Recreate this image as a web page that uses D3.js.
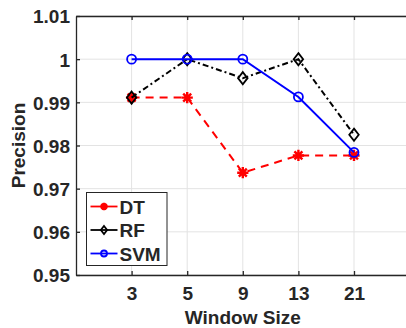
<!DOCTYPE html>
<html>
<head>
<meta charset="utf-8">
<script src="https://cdn.jsdelivr.net/npm/d3@7"></script>
<style>
  body { margin: 0; background: #fff; }
  svg text { font-family: "Liberation Sans", Arial, sans-serif; font-weight: bold; fill: #262626; }
</style>
</head>
<body>
<svg id="chart" width="406" height="328"></svg>
<script>
// Data
var windowSizes = ["3", "5", "9", "13", "21"];
var dtValues = [0.9911, 0.9911, 0.9737, 0.9777, 0.9777];
var rfValues = [0.9911, 1.0, 0.9956, 1.0, 0.9825];
var svmValues = [1.0, 1.0, 1.0, 0.99125, 0.9784];
var yTicks = [0.95, 0.96, 0.97, 0.98, 0.99, 1, 1.01];

var series = [
    { name: "DT", values: dtValues, color: "#ff0000", dash: "8,6", marker: "star" },
    { name: "RF", values: rfValues, color: "#000000", dash: "6,3,2,3", marker: "diamond" },
    { name: "SVM", values: svmValues, color: "#0000ff", dash: null, marker: "circle" }
];

// Plot box
var margin = { top: 16, left: 76 };
var plotW = 333.6, plotH = 259;

var svg = d3.select("#chart");
var g = svg.append("g")
    .attr("transform", "translate(" + margin.left + "," + margin.top + ")");

// x is categorical, placed at 1..5 in a 0..6 range
var x = d3.scaleLinear().domain([0, windowSizes.length + 1]).range([0, plotW]);
var y = d3.scaleLinear().domain([0.95, 1.01]).range([plotH, 0]);

// Grid
g.append("g").selectAll("line.gx")
    .data(windowSizes)
    .enter().append("line")
    .attr("x1", (d, i) => x(i + 1)).attr("x2", (d, i) => x(i + 1))
    .attr("y1", 0).attr("y2", plotH)
    .attr("stroke", "#e3e3e3").attr("stroke-width", 1);
g.append("g").selectAll("line.gy")
    .data(yTicks)
    .enter().append("line")
    .attr("x1", 0).attr("x2", plotW)
    .attr("y1", d => y(d)).attr("y2", d => y(d))
    .attr("stroke", "#e3e3e3").attr("stroke-width", 1);

// Axes
var xAxis = d3.axisBottom(x)
    .tickValues(windowSizes.map((d, i) => i + 1))
    .tickFormat((d, i) => windowSizes[i])
    .tickSizeInner(-4).tickSizeOuter(0).tickPadding(12);
var yAxis = d3.axisLeft(y)
    .tickValues(yTicks)
    .tickFormat(d => d === 1 ? "1" : d3.format(".2f")(d))
    .tickSizeInner(-4).tickSizeOuter(0).tickPadding(6);

var gx = g.append("g").attr("transform", "translate(0," + plotH + ")").call(xAxis);
var gy = g.append("g").call(yAxis);
// top border with ticks
var gt = g.append("g").call(d3.axisTop(x)
    .tickValues(windowSizes.map((d, i) => i + 1))
    .tickFormat("").tickSizeInner(-4).tickSizeOuter(0));

[gx, gy, gt].forEach(function(a) {
    a.select(".domain").attr("stroke", "#262626").attr("stroke-width", 1.3);
    a.selectAll(".tick line").attr("stroke", "#262626").attr("stroke-width", 1.3);
    a.selectAll(".tick text").style("font-size", "19px").attr("fill", "#262626");
});
gy.selectAll(".tick text").attr("dy", "0.36em");

// Axis titles
svg.append("text")
    .attr("x", margin.left + x(3)).attr("y", 324)
    .attr("text-anchor", "middle")
    .style("font-size", "19px")
    .text("Window Size");
svg.append("text")
    .attr("transform", "translate(25," + (margin.top + plotH / 2) + ") rotate(-90)")
    .attr("text-anchor", "middle")
    .style("font-size", "19px")
    .text("Precision");

// Marker drawing
function drawMarker(sel, type, color, size) {
    if (type === "circle") {
        sel.append("circle").attr("r", size).attr("fill", "none")
            .attr("stroke", color).attr("stroke-width", 1.8);
    } else if (type === "diamond") {
        sel.append("path")
            .attr("d", "M0," + (-size * 1.35) + "L" + (size * 1.05) + ",0L0," + (size * 1.35) + "L" + (-size * 1.05) + ",0Z")
            .attr("fill", "none").attr("stroke", color).attr("stroke-width", 1.8);
    } else {
        var s = size * 1.25;
        var p = "";
        for (var k = 0; k < 4; k++) {
            var a = k * Math.PI / 4;
            p += "M" + (-s * Math.cos(a)) + "," + (-s * Math.sin(a)) + "L" + (s * Math.cos(a)) + "," + (s * Math.sin(a));
        }
        sel.append("path").attr("d", p).attr("stroke", color).attr("stroke-width", 2.4);
    }
}

var line = d3.line().x((d, i) => x(i + 1)).y(d => y(d));

series.forEach(function(s) {
    g.append("path")
        .datum(s.values)
        .attr("d", line)
        .attr("fill", "none")
        .attr("stroke", s.color)
        .attr("stroke-width", 2)
        .attr("stroke-dasharray", s.dash);
    g.selectAll(null)
        .data(s.values)
        .enter().append("g")
        .attr("transform", (d, i) => "translate(" + x(i + 1) + "," + y(d) + ")")
        .each(function() { drawMarker(d3.select(this), s.marker, s.color, 4.5); });
});

// Legend
var lg = svg.append("g").attr("transform", "translate(86.5,192.5)");
lg.append("rect").attr("width", 80.5).attr("height", 73)
    .attr("fill", "#fff").attr("stroke", "#262626").attr("stroke-width", 1);
series.forEach(function(s, i) {
    var ly = 14 + i * 23.5;
    lg.append("line").attr("x1", 4).attr("x2", 31).attr("y1", ly).attr("y2", ly)
        .attr("stroke", s.color).attr("stroke-width", 1.8);
    var m = lg.append("g").attr("transform", "translate(17.5," + ly + ")");
    drawMarker(m, s.marker, s.color, 3);
    lg.append("text").attr("x", 33).attr("y", ly + 7)
        .style("font-size", "19px")
        .text(s.name);
});
</script>
</body>
</html>
